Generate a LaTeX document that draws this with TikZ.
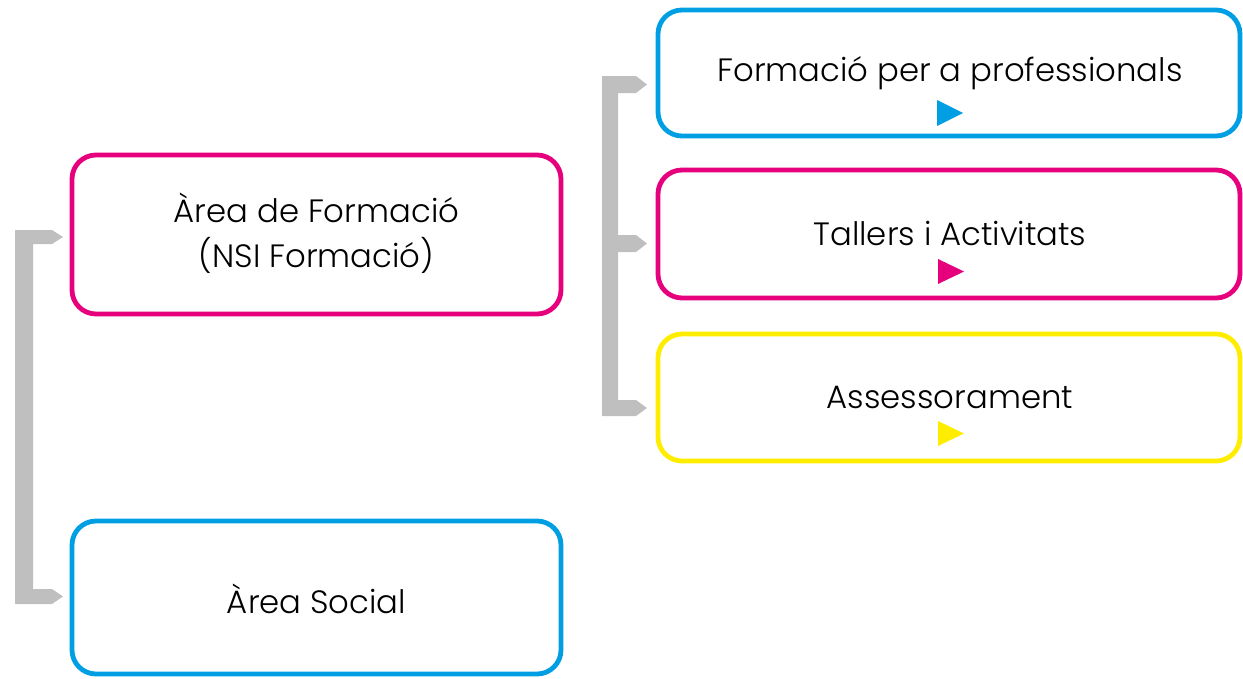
\documentclass[tikz,border=0pt]{standalone}
\usepackage{fontspec}
\setmainfont{Poppins Light}
\usetikzlibrary{calc}
\definecolor{cmag}{HTML}{E6007E}
\definecolor{cblue}{HTML}{009FE3}
\definecolor{cyel}{HTML}{FFED00}
\definecolor{cgray}{HTML}{BFBFBF}
\begin{document}
\begin{tikzpicture}[x=1pt,y=-1pt,
  box/.style={draw=#1, line width=4.8pt, rounded corners=24pt, fill=white, inner sep=0pt},
  lbl/.style={font=\fontsize{32.3}{45}\selectfont, text=black, inner sep=0pt, align=center},
  bracket/.style={fill=cgray}]
\useasboundingbox (0,0) rectangle (1243,678);
% boxes
\node[box=cmag, minimum width=489pt, minimum height=159pt] (b1) at (316.5,234.5) {};
\node[box=cblue, minimum width=489pt, minimum height=153pt] (b2) at (316.5,597.5) {};
\node[box=cblue, minimum width=582pt, minimum height=126pt] (b3) at (949,73) {};
\node[box=cmag, minimum width=582pt, minimum height=128pt] (b4) at (949,234) {};
\node[box=cyel, minimum width=582pt, minimum height=127pt] (b5) at (949,397.5) {};
% texts
\node[lbl] (t1) at (316.5,233) {Àrea de Formació\\(NSI Formació)};
\node[lbl] (t2) at (316.5,599) {Àrea Social};
\node[lbl] (t3) at (950,73) {Formació per a professionals};
\node[lbl] (t4) at (950,233) {Tallers i Activitats};
\node[lbl] (t5) at (950,397) {Assessorament};
% triangles
\fill[cblue] (937,100) -- (963,113) -- (937,126) -- cycle;
\fill[cmag] (938,259) -- (964,271.5) -- (938,284) -- cycle;
\fill[cyel] (938,421) -- (964,433.5) -- (938,446) -- cycle;
% left bracket
\fill[bracket] (15,230) -- (52,230) -- (63,237) -- (52,244) -- (33,244) -- (33,589) -- (52,589) -- (63,596.5) -- (52,604) -- (15,604) -- cycle;
% right bracket
\fill[bracket] (602,76) -- (636,76) -- (647,84.5) -- (636,93) -- (618,93) -- (618,235) -- (636,235) -- (647,243.5) -- (636,252) -- (618,252) -- (618,400) -- (636,400) -- (647,408) -- (636,416) -- (602,416) -- cycle;
\end{tikzpicture}
\end{document}
